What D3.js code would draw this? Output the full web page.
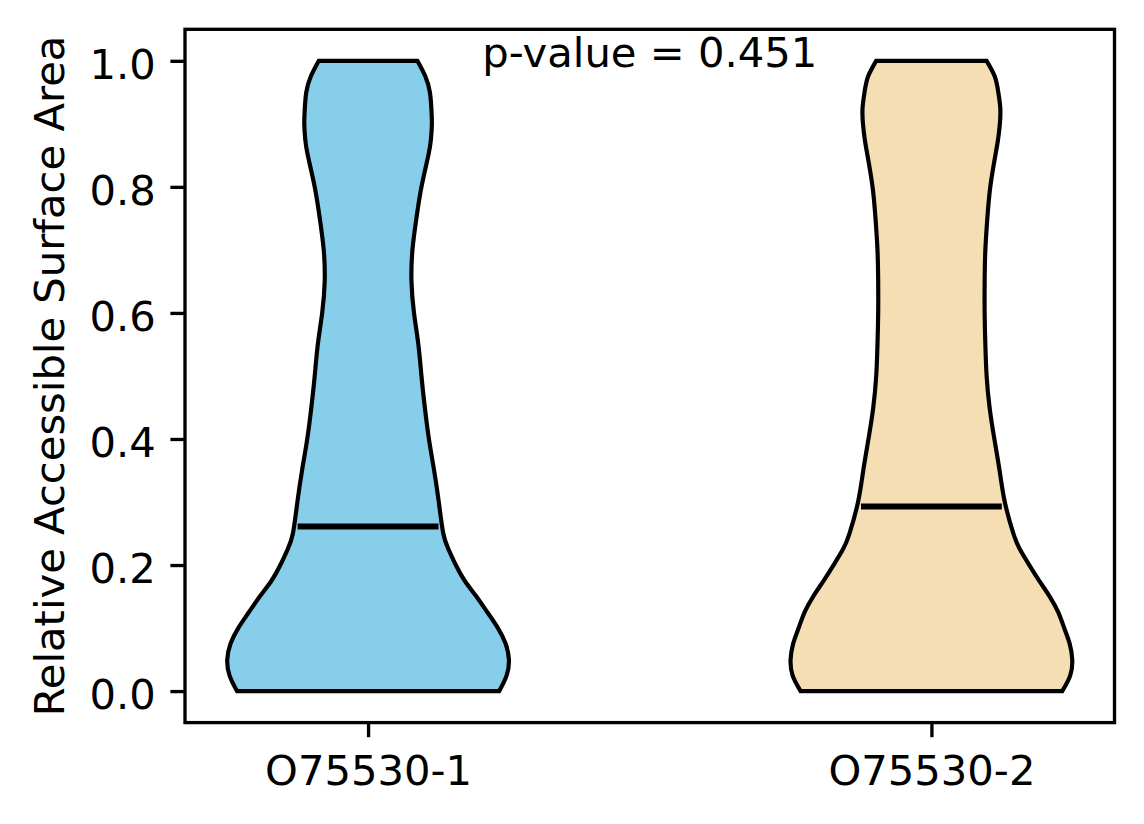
<!DOCTYPE html>
<html>
<head>
<meta charset="utf-8">
<script src="https://cdn.jsdelivr.net/npm/d3@7"></script>
<style>
  html, body { margin: 0; padding: 0; background: #fff; }
  text { font-family: "DejaVu Sans", sans-serif; fill: #000; }
</style>
</head>
<body>
<svg id="chart"></svg>
<script>
// violin plot: relative accessible surface area for two isoforms

const width = 1144;
const height = 824;

// data
const groups = ["O75530-1", "O75530-2"];
const positions = [1, 2];
const colors = ["#87CEEB", "#F5DEB3"];
const medians = [0.261, 0.293];
const pValueText = "p-value = 0.451";

// kde profile (relative density, max = 1) on a shared RSA grid
const rsaGrid = [0, 0.025, 0.05, 0.075, 0.1, 0.125, 0.15, 0.175, 0.2, 0.225, 0.25,
  0.3, 0.35, 0.4, 0.45, 0.5, 0.55, 0.6, 0.65, 0.7, 0.75, 0.8, 0.85,
  0.875, 0.9, 0.925, 0.95, 0.975, 1.0];
const densityIso1 = [0.931, 0.984, 1.0, 0.977, 0.922, 0.847, 0.769, 0.686, 0.623, 0.571, 0.534,
  0.502, 0.469, 0.432, 0.403, 0.379, 0.357, 0.326, 0.308, 0.315, 0.343, 0.379, 0.428,
  0.446, 0.453, 0.449, 0.439, 0.407, 0.350];
const densityIso2 = [0.929, 0.986, 1.0, 0.982, 0.943, 0.901, 0.840, 0.766, 0.695, 0.628, 0.582,
  0.521, 0.484, 0.447, 0.413, 0.392, 0.383, 0.378, 0.378, 0.383, 0.397, 0.418, 0.454,
  0.473, 0.486, 0.489, 0.475, 0.450, 0.392];
const densities = [densityIso1, densityIso2];

const yTicks = [0, 0.2, 0.4, 0.6, 0.8, 1.0];

// layout (matplotlib-ish, 300 dpi)
const fontSize = 41.7;
const plot = { left: 185, right: 1114.5, top: 29.3, bottom: 722.6 };
const violinWidth = 0.5;

const svg = d3.select("#chart")
  .attr("width", width)
  .attr("height", height);

const x = d3.scaleLinear().domain([0.675, 2.325]).range([plot.left, plot.right]);
const y = d3.scaleLinear().domain([-0.05, 1.05]).range([plot.bottom, plot.top]);

// violins
const bodies = svg.append("g");
groups.forEach(function (g, i) {
  const pts = rsaGrid.map(function (v, k) { return { v: v, d: densities[i][k] }; });
  const area = d3.area()
    .y(function (p) { return y(p.v); })
    .x0(function (p) { return x(positions[i] - p.d * violinWidth / 2); })
    .x1(function (p) { return x(positions[i] + p.d * violinWidth / 2); })
    .curve(d3.curveNatural);
  bodies.append("path")
    .attr("d", area(pts))
    .attr("fill", colors[i])
    .attr("stroke", "#000")
    .attr("stroke-width", 4.17)
    .attr("stroke-linejoin", "miter");
});

// median lines
svg.append("g")
  .selectAll("line")
  .data(medians)
  .enter()
  .append("line")
  .attr("x1", function (d, i) { return x(positions[i] - violinWidth / 4); })
  .attr("x2", function (d, i) { return x(positions[i] + violinWidth / 4); })
  .attr("y1", function (d) { return y(d); })
  .attr("y2", function (d) { return y(d); })
  .attr("stroke", "#000")
  .attr("stroke-width", 6);

// axes
const yAxis = svg.append("g")
  .attr("transform", "translate(" + plot.left + ",0)")
  .call(d3.axisLeft(y).tickValues(yTicks).tickFormat(d3.format(".1f"))
    .tickSize(14.6).tickPadding(14.6));

const xAxis = svg.append("g")
  .attr("transform", "translate(0," + plot.bottom + ")")
  .call(d3.axisBottom(x).tickValues(positions)
    .tickFormat(function (d, i) { return groups[i]; })
    .tickSize(14.6).tickPadding(14.6));

[yAxis, xAxis].forEach(function (ax) {
  ax.select(".domain").remove();
  ax.selectAll(".tick line").attr("stroke", "#000").attr("stroke-width", 3.33);
  ax.selectAll(".tick text")
    .attr("font-family", "DejaVu Sans")
    .attr("font-size", fontSize)
    .attr("fill", "#000");
});
yAxis.attr("font-family", null).attr("font-size", null);
xAxis.attr("font-family", null).attr("font-size", null);
yAxis.selectAll(".tick text").attr("dy", null).attr("y", 17.8);
xAxis.selectAll(".tick text").attr("dy", null).attr("y", 62.4);

// frame
svg.append("rect")
  .attr("x", plot.left)
  .attr("y", plot.top)
  .attr("width", plot.right - plot.left)
  .attr("height", plot.bottom - plot.top)
  .attr("fill", "none")
  .attr("stroke", "#000")
  .attr("stroke-width", 3.33);

// y label
svg.append("text")
  .attr("transform", "translate(64," + ((plot.top + plot.bottom) / 2) + ") rotate(-90)")
  .attr("text-anchor", "middle")
  .attr("font-size", fontSize)
  .text("Relative Accessible Surface Area");

// p-value annotation
svg.append("text")
  .attr("x", x(1.5))
  .attr("y", 66.7)
  .attr("text-anchor", "middle")
  .attr("font-size", fontSize)
  .text(pValueText);
</script>
</body>
</html>
